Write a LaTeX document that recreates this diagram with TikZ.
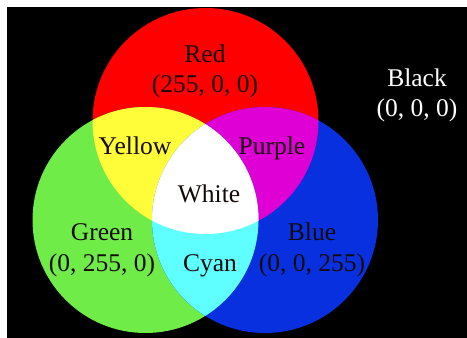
\documentclass[tikz,border=0pt]{standalone}
\usepackage{fontspec}
\setmainfont{Liberation Serif}
\definecolor{cRed}{RGB}{255,0,0}
\definecolor{cGreen}{RGB}{112,236,72}
\definecolor{cBlue}{RGB}{8,48,222}
\definecolor{cYellow}{RGB}{255,252,58}
\definecolor{cPurple}{RGB}{222,0,212}
\definecolor{cCyan}{RGB}{96,255,255}
\definecolor{cText}{RGB}{20,10,10}
\begin{document}
\begin{tikzpicture}[x=1pt,y=-1pt,
  lbl/.style={font=\fontsize{25.5}{30}\selectfont, text=cText, inner sep=0pt, anchor=base},
  wlbl/.style={lbl, text=white}]
\useasboundingbox (0,0) rectangle (467,338);
\fill[white] (0,0) rectangle (467,338);
\fill[black] (7,7) rectangle (467,338);
\def\rc{(205.5,121) circle[radius=113]}
\def\gc{(145.5,220) circle[radius=113]}
\def\bc{(265,220) circle[radius=113]}
\fill[cRed] \rc;
\fill[cGreen] \gc;
\fill[cBlue] \bc;
\begin{scope}
  \clip \rc;
  \fill[cYellow] \gc;
\end{scope}
\begin{scope}
  \clip \rc;
  \fill[cPurple] \bc;
\end{scope}
\begin{scope}
  \clip \gc;
  \fill[cCyan] \bc;
\end{scope}
\begin{scope}
  \clip \rc;
  \clip \gc;
  \fill[white] \bc;
\end{scope}
\node[lbl] (red) at (205,62) {Red};
\node[lbl] (redv) at (205,92) {(255, 0, 0)};
\node[wlbl] (black) at (417,86) {Black};
\node[wlbl] (blackv) at (417,116) {(0, 0, 0)};
\node[lbl] (yellow) at (135,154) {Yellow};
\node[lbl] (purple) at (272,154) {Purple};
\node[lbl] (white) at (209,202) {White};
\node[lbl] (green) at (102,240) {Green};
\node[lbl] (greenv) at (102,271) {(0, 255, 0)};
\node[lbl] (cyan) at (210,271) {Cyan};
\node[lbl] (blue) at (312,240) {Blue};
\node[lbl] (bluev) at (312,271) {(0, 0, 255)};
\end{tikzpicture}
\end{document}
